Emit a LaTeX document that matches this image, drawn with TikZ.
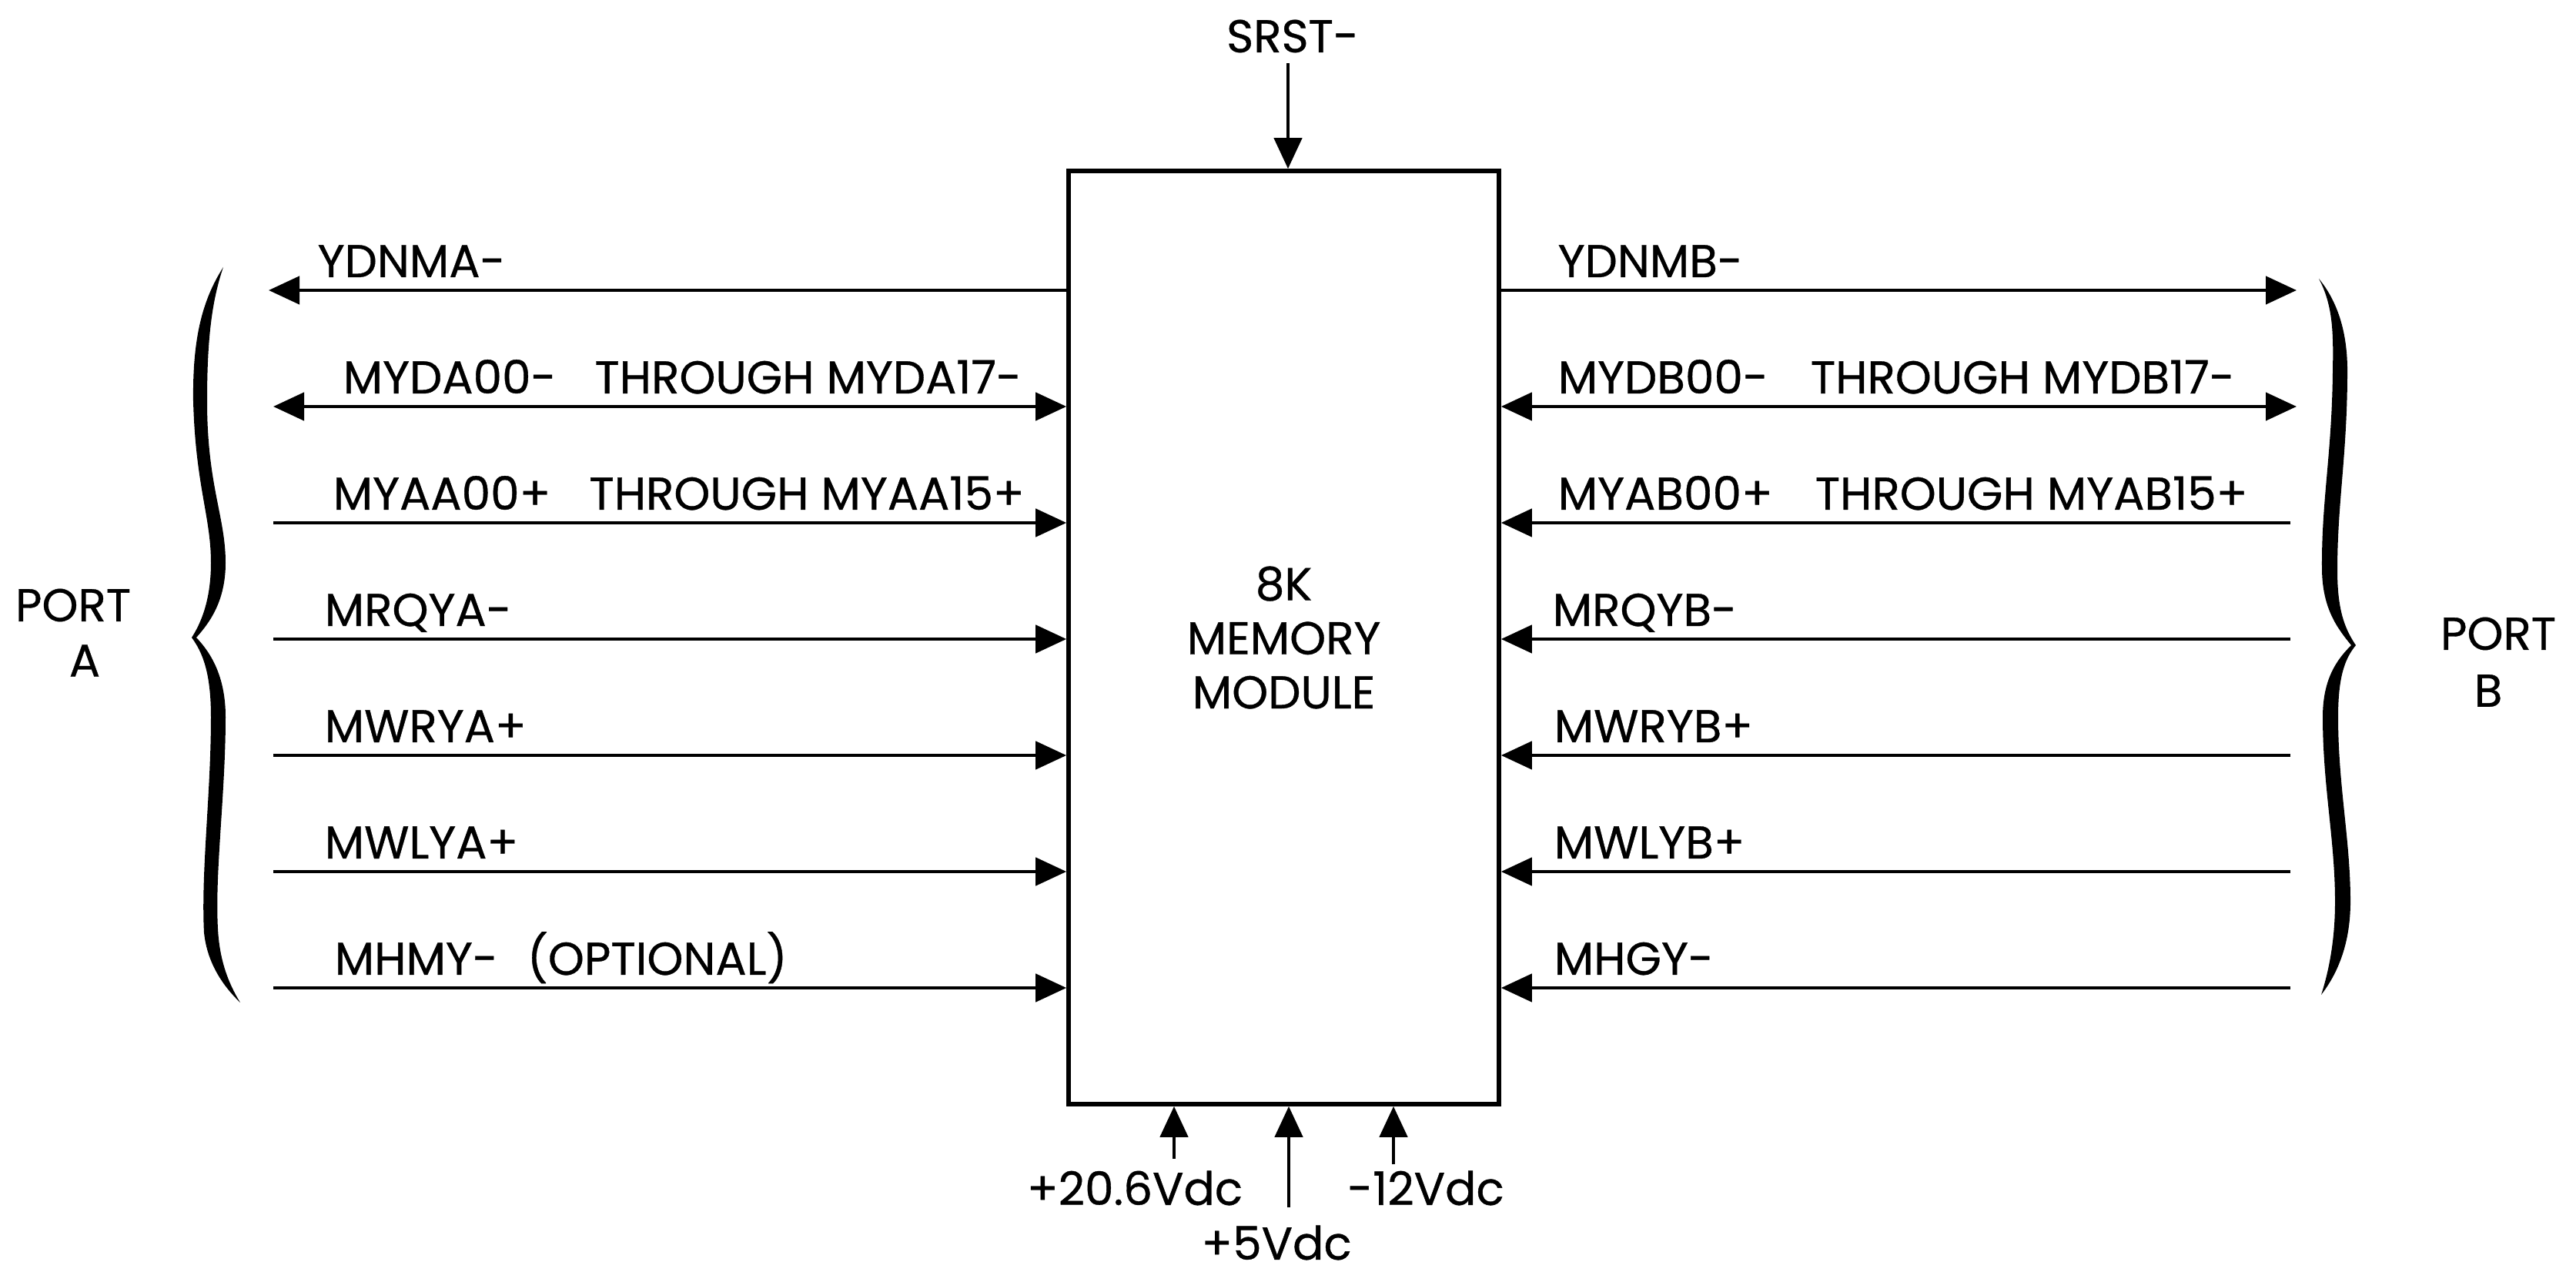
\documentclass[tikz,border=0pt]{standalone}
\usepackage{fontspec}
\setmainfont{Poppins}[FakeBold=0.6]
\usetikzlibrary{arrows.meta}

\newcommand\sigfont{\fontsize{17}{20}\selectfont}

\begin{document}
\begin{tikzpicture}[>={Triangle[length=4mm,width=3.6mm]},
  sigline/.style={line width=1.3pt},
  lbl/.style={font=\sigfont, inner sep=0pt, anchor=base west}]

\useasboundingbox (0,0) rectangle (33.46,16.51);

% Memory module
\node[draw, line width=1.6pt, minimum width=5.59cm, minimum height=12.12cm,
  align=center, font=\sigfont] (mod) at (16.675,8.23) {8K\\MEMORY\\MODULE};

% Reset
\node[lbl, anchor=center] (srst) at (16.79,16.04) {SRST-};
\coordinate (srstin) at (16.73,15.69);
\draw[sigline,->] (srstin) -- (srstin |- mod.north);

% Port A lines
\coordinate (a1) at (3.49,12.74);
\draw[sigline,<-] (a1) -- (a1 -| mod.west);
\node[lbl] (la1) at (4.12,12.91) {YDNMA-};
\coordinate (a2) at (3.55,11.23);
\draw[sigline,<->] (a2) -- (a2 -| mod.west);
\node[lbl] (la2) at (4.45,11.40) {MYDA00-\hspace{0.5cm}THROUGH MYDA17-};
\foreach \i/\y/\x/\txt in {3/9.72/4.32/{MYAA00+\hspace{0.5cm}THROUGH MYAA15+},
    4/8.21/4.21/MRQYA-, 5/6.70/4.21/MWRYA+, 6/5.19/4.21/MWLYA+,
    7/3.68/4.34/{MHMY-\hspace{0.38cm}(OPTIONAL)}} {
  \coordinate (a\i) at (3.55,\y);
  \draw[sigline,->] (a\i) -- (a\i -| mod.west);
  \node[lbl] (la\i) at (\x,\y+0.17) {\txt};
}

% Port B lines
\coordinate (b1) at (29.83,12.74);
\draw[sigline,->] (b1 -| mod.east) -- (b1);
\node[lbl] (lb1) at (20.23,12.91) {YDNMB-};
\coordinate (b2) at (29.83,11.23);
\draw[sigline,<->] (b2 -| mod.east) -- (b2);
\node[lbl] (lb2) at (20.23,11.40) {MYDB00-\hspace{0.55cm}THROUGH MYDB17-};
\foreach \i/\y/\x/\txt in {3/9.72/20.23/{MYAB00+\hspace{0.55cm}THROUGH MYAB15+},
    4/8.21/20.16/MRQYB-, 5/6.70/20.18/MWRYB+, 6/5.19/20.18/MWLYB+,
    7/3.68/20.18/MHGY-} {
  \coordinate (b\i) at (29.75,\y);
  \draw[sigline,->] (b\i) -- (b\i -| mod.east);
  \node[lbl] (lb\i) at (\x,\y+0.17) {\txt};
}

% Braces
\fill (2.90,13.04) .. controls (2.62,12.60) and (2.50,12.10) .. (2.51,11.30)
  .. controls (2.54,10.20) and (2.74,9.80) .. (2.74,9.20)
  .. controls (2.74,8.70) and (2.60,8.40) .. (2.49,8.23)
  .. controls (2.62,8.05) and (2.74,7.80) .. (2.74,7.20)
  .. controls (2.74,6.20) and (2.61,5.20) .. (2.65,4.40)
  .. controls (2.69,4.00) and (2.90,3.70) .. (3.12,3.49)
  .. controls (2.96,3.75) and (2.85,4.05) .. (2.83,4.45)
  .. controls (2.79,5.20) and (2.93,6.20) .. (2.93,7.20)
  .. controls (2.93,7.75) and (2.72,8.05) .. (2.55,8.23)
  .. controls (2.72,8.42) and (2.93,8.70) .. (2.93,9.20)
  .. controls (2.93,9.80) and (2.69,10.20) .. (2.69,11.30)
  .. controls (2.69,12.10) and (2.75,12.60) .. (2.90,13.04) -- cycle;
\fill (30.12,12.89) .. controls (30.30,12.55) and (30.31,12.20) .. (30.30,11.70)
  .. controls (30.29,10.60) and (30.15,10.00) .. (30.16,9.10)
  .. controls (30.17,8.60) and (30.36,8.35) .. (30.54,8.13)
  .. controls (30.36,7.95) and (30.17,7.70) .. (30.17,7.20)
  .. controls (30.17,6.30) and (30.33,5.60) .. (30.33,4.80)
  .. controls (30.33,4.30) and (30.25,3.90) .. (30.15,3.59)
  .. controls (30.39,3.90) and (30.53,4.30) .. (30.53,4.80)
  .. controls (30.53,5.60) and (30.37,6.30) .. (30.37,7.20)
  .. controls (30.37,7.70) and (30.45,7.95) .. (30.60,8.13)
  .. controls (30.45,8.35) and (30.36,8.60) .. (30.36,9.10)
  .. controls (30.36,10.00) and (30.49,10.60) .. (30.49,11.70)
  .. controls (30.49,12.20) and (30.36,12.60) .. (30.12,12.89) -- cycle;

\node[lbl, anchor=center] (porta) at (0.95,8.65) {PORT};
\node[lbl, anchor=center] (portaname) at (1.10,7.93) {A};
\node[lbl, anchor=center] (portb) at (32.45,8.28) {PORT};
\node[lbl, anchor=center] (portbname) at (32.32,7.54) {B};

% Supplies
\foreach \i/\x/\y in {1/15.25/1.46, 2/16.74/0.83, 3/18.10/1.39} {
  \coordinate (p\i) at (\x,\y);
  \draw[sigline,->] (p\i) -- (p\i |- mod.south);
}
\node[lbl, anchor=center] (v1) at (14.74,1.08) {+20.6Vdc};
\node[lbl, anchor=center] (v2) at (16.58,0.37) {+5Vdc};
\node[lbl, anchor=center] (v3) at (18.52,1.08) {-12Vdc};

\end{tikzpicture}
\end{document}
